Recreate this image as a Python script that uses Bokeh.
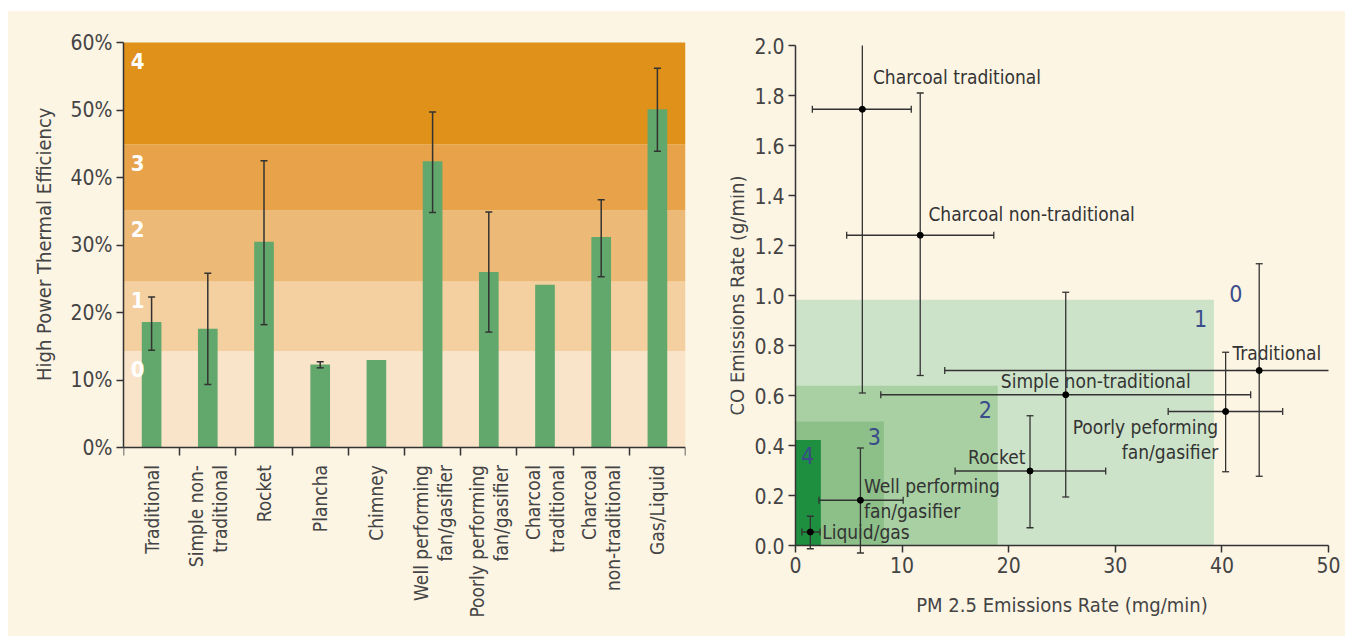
import math
from bokeh.plotting import figure
from bokeh.layouts import row, column
from bokeh.models import FixedTicker, PrintfTickFormatter, Range1d, Label, Spacer, Title
from bokeh.core.properties import value
from bokeh.embed import file_html
from bokeh.resources import INLINE

FONT = "'DejaVu Sans Condensed', 'Liberation Sans Narrow', Roboto, sans-serif"
BG = "#FDF5E4"
DARK = "#333333"
TXT = "#444444"

# ---------------- Left chart data ----------------
categories = ["Traditional", "Simple non-\ntraditional", "Rocket", "Plancha", "Chimney",
              "Well performing\nfan/gasifier", "Poorly performing\nfan/gasifier",
              "Charcoal\ntraditional", "Charcoal\nnon-traditional", "Gas/Liquid"]
efficiency = [18.6, 17.6, 30.5, 12.3, 12.95, 42.4, 26.0, 24.1, 31.2, 50.1]
eff_low = [14.4, 9.35, 18.2, 11.8, None, 34.8, 17.1, None, 25.3, 43.9]
eff_high = [22.3, 25.8, 42.5, 12.7, None, 49.7, 34.9, None, 36.7, 56.2]
eff_ticks = [0, 10, 20, 30, 40, 50, 60]

tier_bounds = [0, 14.3, 24.6, 35.1, 44.9, 60]
tier_names = ["0", "1", "2", "3", "4"]
tier_colors = ["#F9E4C9", "#F4CF9F", "#EDB976", "#E7A24A", "#E0911A"]

# ---------------- Right chart data ----------------
stoves = ["Charcoal traditional", "Charcoal non-traditional", "Simple non-traditional",
          "Traditional", "Poorly peforming\nfan/gasifier", "Rocket",
          "Well performing\nfan/gasifier", "Liquid/gas"]
pm = [6.27, 11.7, 25.35, 43.5, 40.35, 22.0, 6.09, 1.39]
pm_lo = [1.58, 4.8, 8.0, 14.0, 34.96, 14.97, 2.2, 0.6]
pm_hi = [10.86, 18.6, 42.7, 51.0, 45.7, 29.1, 10.1, 2.3]
co = [1.745, 1.241, 0.603, 0.70, 0.536, 0.298, 0.181, 0.054]
co_lo = [0.61, 0.68, 0.194, 0.277, 0.295, 0.071, -0.03, -0.013]
co_hi = [2.1, 1.81, 1.013, 1.127, 0.773, 0.519, 0.39, 0.117]
pm_ticks = [0, 10, 20, 30, 40, 50]
co_ticks = [0, 0.2, 0.4, 0.6, 0.8, 1.0, 1.2, 1.4, 1.6, 1.8, 2.0]

label_x = [7.26, 12.47, 19.26, 41.0, 39.65, 21.57, 6.42, 2.5]
label_y = [1.873, 1.327, 0.657, 0.771, 0.476, 0.355, 0.237, 0.054]
label_align = ["left", "left", "left", "left", "right", "right", "left", "left"]

tier_pm_limit = [39.25, 18.97, 8.29, 2.38]
tier_co_limit = [0.983, 0.639, 0.496, 0.422]
tier_rect_colors = ["#CDE3C9", "#A8D0A3", "#8DBF89", "#1E8F3F"]
tier_num_labels = ["0", "1", "2", "3", "4"]
tier_num_x = [41.3, 38.0, 17.8, 7.4, 1.14]
tier_num_y = [1.01, 0.91, 0.543, 0.436, 0.362]

# ---------------- layout constants (pixels) ----------------
PAGE_TOP = 11
FIG_H = 625
TOP = 15
BOTTOM = 6
FRAME_TOP = PAGE_TOP + TOP                 # page y of the frame top
FRAME_BOTTOM = PAGE_TOP + FIG_H - BOTTOM   # page y of the frame bottom
X_MAX = 50.0
Y_MAX = 2.0


def style_axes(p):
    for ax in (p.xaxis + p.yaxis):
        ax.axis_line_color = DARK
        ax.axis_line_width = 1.5
        ax.major_tick_line_color = DARK
        ax.major_tick_line_width = 1.5
        ax.minor_tick_line_color = DARK
        ax.minor_tick_line_width = 1.5
        ax.major_label_text_font = FONT
        ax.major_label_text_font_size = "21px"
        ax.major_label_text_color = TXT
        ax.axis_label_text_font = FONT
        ax.axis_label_text_font_size = "20px"
        ax.axis_label_text_font_style = "normal"
        ax.axis_label_text_color = TXT
    p.grid.visible = False
    p.outline_line_color = None


# ================= Left figure =================
EFF_PX = 405.0 / 60.0           # pixels per percent (60% at y=42, 0% at y=447)
eff_top = 60 + (42 - FRAME_TOP) / EFF_PX
eff_bottom = -(FRAME_BOTTOM - 447) / EFF_PX

p1 = figure(width=712, height=FIG_H, x_range=Range1d(0, 10), y_range=Range1d(eff_bottom, eff_top),
            output_backend="svg", toolbar_location=None,
            background_fill_color=BG, border_fill_color=BG,
            min_border_left=115, min_border_right=35, min_border_top=TOP, min_border_bottom=BOTTOM)

p1.quad(left=0, right=10, bottom=tier_bounds[:-1], top=tier_bounds[1:],
        fill_color=tier_colors, line_color=None)

xs = [i + 0.5 for i in range(len(categories))]
p1.vbar(x=xs, width=0.35, top=efficiency, bottom=0, fill_color="#62A86C", line_color=None)

ex = [x for x, lo in zip(xs, eff_low) if lo is not None]
elo = [lo for lo in eff_low if lo is not None]
ehi = [hi for hi in eff_high if hi is not None]
p1.segment(x0=ex, y0=elo, x1=ex, y1=ehi, line_color=DARK, line_width=1.5)
p1.scatter(x=ex + ex, y=elo + ehi, marker="dash", size=7, line_color=DARK, line_width=1.5)

p1.text(x=[0.13] * 5, y=[t - 2.7 for t in tier_bounds[1:]], text=tier_names,
        text_color="white", text_font=value(FONT), text_font_size="22px",
        text_font_style="bold", text_baseline="middle", text_align="left")

style_axes(p1)
p1.xaxis.fixed_location = 0
p1.xaxis.ticker = FixedTicker(ticks=[], minor_ticks=list(range(0, 11)))
p1.xaxis.major_label_text_font_size = "0px"
p1.xaxis.major_tick_out = 0
p1.xaxis.major_tick_in = 0
p1.xaxis.minor_tick_out = 8
p1.xaxis.minor_tick_in = 0
p1.yaxis.bounds = (0, 60)
p1.yaxis.ticker = FixedTicker(ticks=eff_ticks)
p1.yaxis.formatter = PrintfTickFormatter(format="%d%%")
p1.yaxis.major_tick_out = 7
p1.yaxis.major_tick_in = 0
p1.yaxis.minor_tick_out = 0
p1.yaxis.minor_tick_in = 0
p1.yaxis.major_label_standoff = 4

# axis title placed as a side title so that it is centred on the 0-60% span
p1.add_layout(Title(text="High Power Thermal Efficiency", align="right", offset=81,
                    text_font=FONT, text_font_size="20px", text_font_style="normal",
                    text_color=TXT, standoff=24), "left")

for x, c in zip(xs, categories):
    p1.add_layout(Label(x=x, y=-2.6, text=c, angle=math.pi / 2, text_align="right",
                        text_baseline="middle", text_font=FONT, text_font_size="19px",
                        text_color=TXT, text_line_height=1.1))

# ================= Right figure =================
# the frame covers the whole panel; both axes are pinned at 0 so their labels stay visible
CO_PX = 500.0 / Y_MAX           # 2.0 at y=45, 0.0 at y=545
PM_PX = 533.0 / X_MAX           # 0 -> 50 spans 533 px
R_LEFT, R_RIGHT, R_W = 10, 5, 625
pad_left_px = 65.0              # room left of x=0 for the CO tick labels and title
x_start = -pad_left_px / PM_PX
x_end = X_MAX + (R_W - R_LEFT - R_RIGHT - pad_left_px - 533.0) / PM_PX
co_top = Y_MAX + (45 - FRAME_TOP) / CO_PX
co_bottom = -(FRAME_BOTTOM - 545) / CO_PX

p2 = figure(width=R_W, height=FIG_H, x_range=Range1d(x_start, x_end),
            y_range=Range1d(co_bottom, co_top),
            output_backend="svg", toolbar_location=None,
            background_fill_color=BG, border_fill_color=BG,
            min_border_left=R_LEFT, min_border_right=R_RIGHT, min_border_top=TOP,
            min_border_bottom=BOTTOM)

p2.quad(left=0, right=tier_pm_limit, bottom=0, top=tier_co_limit,
        fill_color=tier_rect_colors, line_color=None)

p2.text(x=tier_num_x, y=tier_num_y, text=tier_num_labels, text_color="#3A4C8A",
        text_font=value(FONT), text_font_size="23px", text_baseline="middle", text_align="center")

# error bars (clipped at the ends of the axes)
co_hi_c = [min(v, Y_MAX) for v in co_hi]
pm_hi_c = [min(v, X_MAX) for v in pm_hi]
p2.segment(x0=pm, y0=co_lo, x1=pm, y1=co_hi_c, line_color=DARK, line_width=1.3)
p2.segment(x0=pm_lo, y0=co, x1=pm_hi_c, y1=co, line_color=DARK, line_width=1.3)
cap_x = pm + [x for x, v in zip(pm, co_hi) if v < Y_MAX]
cap_y = co_lo + [v for v in co_hi if v < Y_MAX]
p2.scatter(x=cap_x, y=cap_y, marker="dash", size=7, line_color=DARK, line_width=1.3)
hcap_x = pm_lo + [v for v in pm_hi if v < X_MAX]
hcap_y = co + [y for y, v in zip(co, pm_hi) if v < X_MAX]
p2.scatter(x=hcap_x, y=hcap_y, marker="dash", angle=math.pi / 2, size=7,
           line_color=DARK, line_width=1.3)
p2.scatter(x=pm, y=co, marker="circle", size=6, fill_color="black", line_color="black")

# labels (split multi-line)
lt, lx, ly, la, lo = [], [], [], [], []
for s, x, y, a in zip(stoves, label_x, label_y, label_align):
    for k, line in enumerate(s.split("\n")):
        lt.append(line)
        lx.append(x)
        ly.append(y)
        la.append(a)
        lo.append(k * 25)
p2.text(x=lx, y=ly, text=lt, y_offset=lo, text_align=la, text_baseline="middle",
        text_color=DARK, text_font=value(FONT), text_font_size="19px")

style_axes(p2)
p2.xaxis.fixed_location = 0
p2.yaxis.fixed_location = 0
p2.xaxis.bounds = (0, X_MAX)
p2.yaxis.bounds = (0, Y_MAX)
p2.xaxis.ticker = FixedTicker(ticks=pm_ticks)
p2.yaxis.ticker = FixedTicker(ticks=co_ticks)
p2.yaxis.formatter = PrintfTickFormatter(format="%.1f")
for ax in (p2.xaxis + p2.yaxis):
    ax.major_tick_out = 7
    ax.major_tick_in = 0
    ax.minor_tick_out = 0
    ax.minor_tick_in = 0
    ax.major_label_standoff = 4
p2.xaxis.axis_label = "PM 2.5 Emissions Rate (mg/min)"
p2.yaxis.axis_label = "CO Emissions Rate (g/min)"
p2.xaxis.axis_label_standoff = 17
p2.yaxis.axis_label_standoff = 2

charts = row(p1, p2, styles={"background-color": BG})
layout = column(Spacer(height=PAGE_TOP), row(Spacer(width=8), charts))
open("out.html", "w").write(file_html(layout, INLINE))
